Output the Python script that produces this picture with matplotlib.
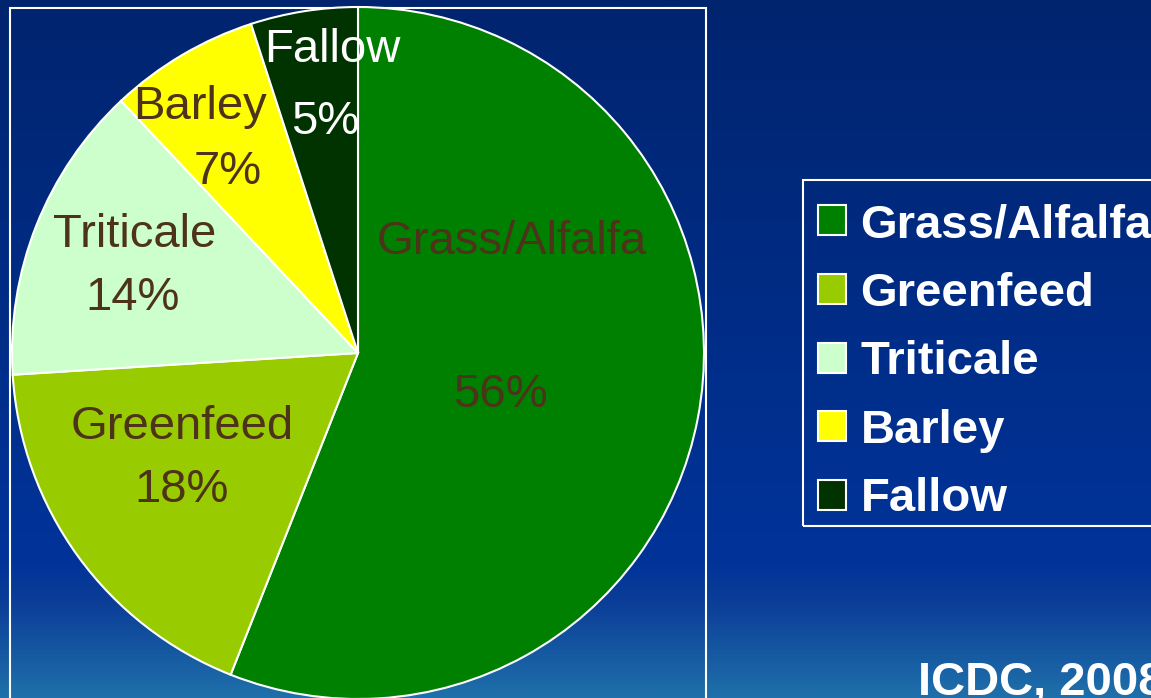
import numpy as np
import matplotlib
matplotlib.use("Agg")
import matplotlib.pyplot as plt
from matplotlib.colors import LinearSegmentedColormap
from matplotlib.patches import Rectangle

categories = ["Grass/Alfalfa", "Greenfeed", "Triticale", "Barley", "Fallow"]
values = [56, 18, 14, 7, 5]
colors = ["#008000", "#99cc00", "#ccffcc", "#ffff00", "#003300"]
text_colors = ["#4d3319", "#4d3319", "#4d3319", "#4d3319", "#ffffff"]
source = "ICDC, 2008"

W, H = 1151, 698
fig = plt.figure(figsize=(W / 100, H / 100), dpi=100)
plt.rcParams['font.family'] = ['Liberation Sans', 'DejaVu Sans']

# background gradient
bg = fig.add_axes([0, 0, 1, 1])
bg.set_axis_off()
cmap = LinearSegmentedColormap.from_list(
    "bg", [(0.0, "#00246e"), (0.80, "#003399"), (0.86, "#0a3c97"), (1.0, "#1f70aa")])
grad = np.linspace(0, 1, 512).reshape(-1, 1)
bg.imshow(grad, aspect="auto", cmap=cmap, extent=[0, 1, 0, 1], origin="upper")
bg.set_xlim(0, 1)
bg.set_ylim(0, 1)

ax = fig.add_axes([0, 0, 1, 1])
ax.set_xlim(0, W)
ax.set_ylim(0, H)
ax.set_axis_off()
ax.patch.set_alpha(0)

def py(y):
    return H - y

cx, cy, r = 358, py(353), 346

# plot frame
ax.add_patch(Rectangle((10, py(720)), 696, 712, fill=False, ec="white", lw=1.5, zorder=1))
# legend frame
ax.add_patch(Rectangle((803, py(526)), 360, 346, fill=False, ec="white", lw=1.5, zorder=1))

wedges, _ = ax.pie(values, colors=colors, startangle=90, counterclock=False,
                   center=(cx, cy), radius=r, frame=True,
                   wedgeprops=dict(edgecolor="white", linewidth=1.5))
ax.set_xlim(0, W)
ax.set_ylim(0, H)
ax.set_aspect("equal")
ax.set_axis_off()

# label positions (pixels: name, percent)
name_pos = [(512, 242), (182, 427), (135, 235), (200, 107), (332, 50)]
pct_pos = [(500, 395), (182, 490), (133, 298), (228, 172), (325, 122)]
for cat, v, tc, npos, ppos in zip(categories, values, text_colors, name_pos, pct_pos):
    ax.text(npos[0], py(npos[1]), cat, color=tc, fontsize=34, ha="center", va="center", zorder=5)
    ax.text(ppos[0], py(ppos[1]), f"{v}%", color=tc, fontsize=34, ha="center", va="center", zorder=5)

# legend
leg = fig.legend(wedges, categories, loc="upper left",
                 bbox_to_anchor=(803 / W, 1 - 188 / H),
                 frameon=False,
                 prop=dict(size=34, weight="bold"), labelcolor="white",
                 handlelength=0.6, handleheight=0.6, handletextpad=0.3,
                 labelspacing=0.52, borderpad=0.32, borderaxespad=0)

fig.text(918 / W, 1 - 683 / H, source, color="white", fontsize=34, fontweight="bold",
         ha="left", va="center")

fig.savefig("out.png", dpi=100)
